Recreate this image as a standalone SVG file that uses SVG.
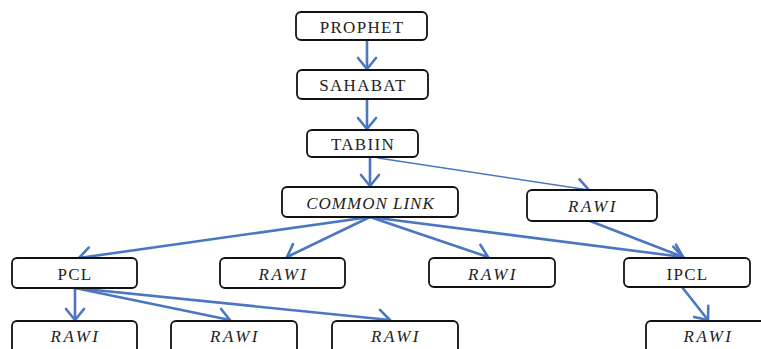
<svg xmlns="http://www.w3.org/2000/svg" width="761" height="349" viewBox="0 0 761 349">
  <style>
    .box { fill: #ffffff; stroke: #111111; stroke-width: 1.8; }
    .lbl { font-family: "Liberation Serif", "Times New Roman", serif; font-size: 17px; fill: #222222; text-anchor: middle; letter-spacing: 1.3px; }
    .it { font-style: italic; letter-spacing: 1px; }
    .rawi { letter-spacing: 2.5px; }
    .edge { fill: none; stroke: #4a76c2; stroke-width: 2.6; stroke-linecap: round; }
    .thin { stroke-width: 1.6; }
  </style>
  <defs>
    <marker id="head" viewBox="0 0 12 20" refX="11" refY="10" markerWidth="12" markerHeight="20" markerUnits="userSpaceOnUse" orient="auto" overflow="visible">
      <path d="M0,1 L11,10 L0,19" fill="none" stroke="#4a76c2" stroke-width="2.6" stroke-linecap="round" stroke-linejoin="round"/>
    </marker>
  </defs>
  <rect width="761" height="349" fill="#ffffff"/>

  <g id="connectors">
    <line class="edge" x1="367" y1="40" x2="367" y2="69" marker-end="url(#head)"/>
    <line class="edge" x1="367" y1="99" x2="367" y2="129" marker-end="url(#head)"/>
    <line class="edge" x1="370" y1="157" x2="370" y2="186" marker-end="url(#head)"/>
    <line class="edge thin" x1="378" y1="158" x2="589" y2="190" marker-end="url(#head)"/>
    <line class="edge" x1="370" y1="217" x2="79" y2="258" marker-end="url(#head)"/>
    <line class="edge" x1="370" y1="217" x2="287" y2="257" marker-end="url(#head)"/>
    <line class="edge" x1="370" y1="217" x2="488" y2="257" marker-end="url(#head)"/>
    <line class="edge" x1="370" y1="217" x2="683" y2="257" marker-end="url(#head)"/>
    <line class="edge" x1="590" y1="221" x2="683" y2="257" marker-end="url(#head)"/>
    <line class="edge" x1="75" y1="288" x2="75" y2="320" marker-end="url(#head)"/>
    <line class="edge" x1="75" y1="288" x2="230" y2="320" marker-end="url(#head)"/>
    <line class="edge" x1="75" y1="288" x2="390" y2="320" marker-end="url(#head)"/>
    <line class="edge" x1="682" y1="287" x2="708" y2="320" marker-end="url(#head)"/>
  </g>

  <g id="prophet">
    <rect class="box" x="296" y="12" width="131" height="28" rx="5"/>
    <text class="lbl" x="362" y="32.5">PROPHET</text>
  </g>
  <g id="sahabat">
    <rect class="box" x="297" y="70" width="131" height="29" rx="5"/>
    <text class="lbl" x="363" y="91">SAHABAT</text>
  </g>
  <g id="tabiin">
    <rect class="box" x="307" y="130" width="111" height="27" rx="5"/>
    <text class="lbl" x="363" y="150">TABIIN</text>
  </g>
  <g id="common-link">
    <rect class="box" x="282" y="187" width="176" height="30" rx="5"/>
    <text class="lbl it" x="370.5" y="208.5">COMMON LINK</text>
  </g>
  <g id="rawi-tabiin">
    <rect class="box" x="527" y="190" width="130" height="31" rx="5"/>
    <text class="lbl it rawi" x="593" y="211.5">RAWI</text>
  </g>
  <g id="pcl">
    <rect class="box" x="12" y="258" width="125" height="30" rx="5"/>
    <text class="lbl" x="75" y="279.5">PCL</text>
  </g>
  <g id="rawi-cl-1">
    <rect class="box" x="220" y="258" width="125" height="30" rx="5"/>
    <text class="lbl it rawi" x="283.5" y="279.5">RAWI</text>
  </g>
  <g id="rawi-cl-2">
    <rect class="box" x="429" y="258" width="126" height="29" rx="5"/>
    <text class="lbl it rawi" x="493" y="279.5">RAWI</text>
  </g>
  <g id="ipcl">
    <rect class="box" x="624" y="258" width="126" height="29" rx="5"/>
    <text class="lbl" x="687.5" y="279.5">IPCL</text>
  </g>
  <g id="rawi-pcl-1">
    <rect class="box" x="12" y="321" width="125" height="35" rx="5"/>
    <text class="lbl it rawi" x="75.5" y="342">RAWI</text>
  </g>
  <g id="rawi-pcl-2">
    <rect class="box" x="171" y="321" width="126" height="35" rx="5"/>
    <text class="lbl it rawi" x="235" y="342">RAWI</text>
  </g>
  <g id="rawi-pcl-3">
    <rect class="box" x="332" y="321" width="126" height="35" rx="5"/>
    <text class="lbl it rawi" x="396" y="342">RAWI</text>
  </g>
  <g id="rawi-ipcl">
    <rect class="box" x="646" y="321" width="125" height="35" rx="5"/>
    <text class="lbl it rawi" x="708.5" y="342">RAWI</text>
  </g>
</svg>
